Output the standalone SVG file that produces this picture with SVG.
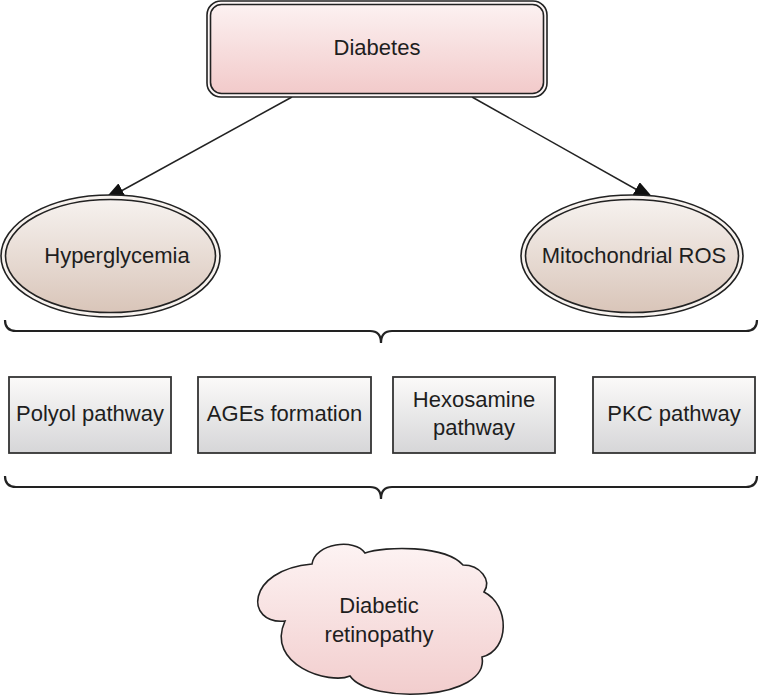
<svg xmlns="http://www.w3.org/2000/svg" width="760" height="697" viewBox="0 0 760 697">
<defs>
<linearGradient id="gPink" x1="0" y1="0" x2="0" y2="1"><stop offset="0" stop-color="#fcf1f1"/><stop offset="1" stop-color="#f2caca"/></linearGradient>
<linearGradient id="gTan" x1="0" y1="0" x2="0" y2="1"><stop offset="0" stop-color="#f6f2ef"/><stop offset="1" stop-color="#d9c5b9"/></linearGradient>
<linearGradient id="gGray" x1="0" y1="0" x2="0" y2="1"><stop offset="0" stop-color="#fbfaf9"/><stop offset="1" stop-color="#d6d6d8"/></linearGradient>
<linearGradient id="gCloud" x1="0" y1="0" x2="0" y2="1"><stop offset="0" stop-color="#fdf3f3"/><stop offset="1" stop-color="#f2cdcd"/></linearGradient>
<marker id="arr" markerUnits="userSpaceOnUse" markerWidth="22" markerHeight="16" refX="22" refY="8" orient="auto"><path d="M0,0 L22,8 L0,16 Z" fill="#111"/></marker>
</defs>
<style>
text{font-family:"Liberation Sans",Arial,sans-serif;font-size:22px;fill:#1e1e1e;text-anchor:middle}
.ln{fill:none;stroke:#222;stroke-width:1.5}
.brace{fill:none;stroke:#222;stroke-width:2.2}
.box{fill:url(#gGray);stroke:#333;stroke-width:1.8}
.dbl{stroke:#222;stroke-width:1.6}
</style>
<g id="connectors">
<line class="ln" x1="292" y1="97" x2="103" y2="201" marker-end="url(#arr)"/>
<line class="ln" x1="472" y1="97" x2="655" y2="200" marker-end="url(#arr)"/>
<path class="brace" d="M5,320 Q5,331 16,331 L370,331 Q381,331 381,343 Q381,331 392,331 L746,331 Q757,331 757,320"/>
<path class="brace" d="M5,476 Q5,487 16,487 L370,487 Q381,487 381,499 Q381,487 392,487 L746,487 Q757,487 757,476"/>
</g>
<g id="diabetes">
<rect x="207" y="1" width="340" height="96" rx="14" fill="#fdf6f6" class="dbl"/>
<rect x="210.5" y="4.5" width="333" height="89" rx="11" fill="url(#gPink)" class="dbl"/>
<text x="377" y="55">Diabetes</text>
</g>
<g id="hyperglycemia">
<ellipse cx="110.5" cy="256" rx="109.5" ry="61" fill="#f7f2ee" class="dbl"/>
<ellipse cx="110.5" cy="256" rx="105" ry="56.5" fill="url(#gTan)" class="dbl"/>
<text x="117" y="263">Hyperglycemia</text>
</g>
<g id="mito">
<ellipse cx="632" cy="256" rx="111" ry="61" fill="#f7f2ee" class="dbl"/>
<ellipse cx="632" cy="256" rx="106.5" ry="56.5" fill="url(#gTan)" class="dbl"/>
<text x="634" y="263">Mitochondrial ROS</text>
</g>
<g id="polyol">
<rect class="box" x="9" y="377" width="162" height="76"/>
<text x="90" y="421">Polyol pathway</text>
</g>
<g id="ages">
<rect class="box" x="198" y="377" width="173" height="76"/>
<text x="284.5" y="421">AGEs formation</text>
</g>
<g id="hexosamine">
<rect class="box" x="393" y="377" width="162" height="76"/>
<text x="474" y="407">Hexosamine</text>
<text x="474" y="435">pathway</text>
</g>
<g id="pkc">
<rect class="box" x="593" y="377" width="162" height="76"/>
<text x="674" y="421">PKC pathway</text>
</g>
<g id="retinopathy">
<path d="M285,621 C245,625 245,570 312,564 C315,543 355,538 365,553 C385,546 445,545 463,565 C480,565 492,580 484,592 C510,605 510,650 482,657 C490,700 370,705 350,676 C330,685 265,665 285,621 Z" fill="url(#gCloud)" stroke="#222" stroke-width="1.6"/>
<text x="379" y="613">Diabetic</text>
<text x="379" y="642">retinopathy</text>
</g>
</svg>
